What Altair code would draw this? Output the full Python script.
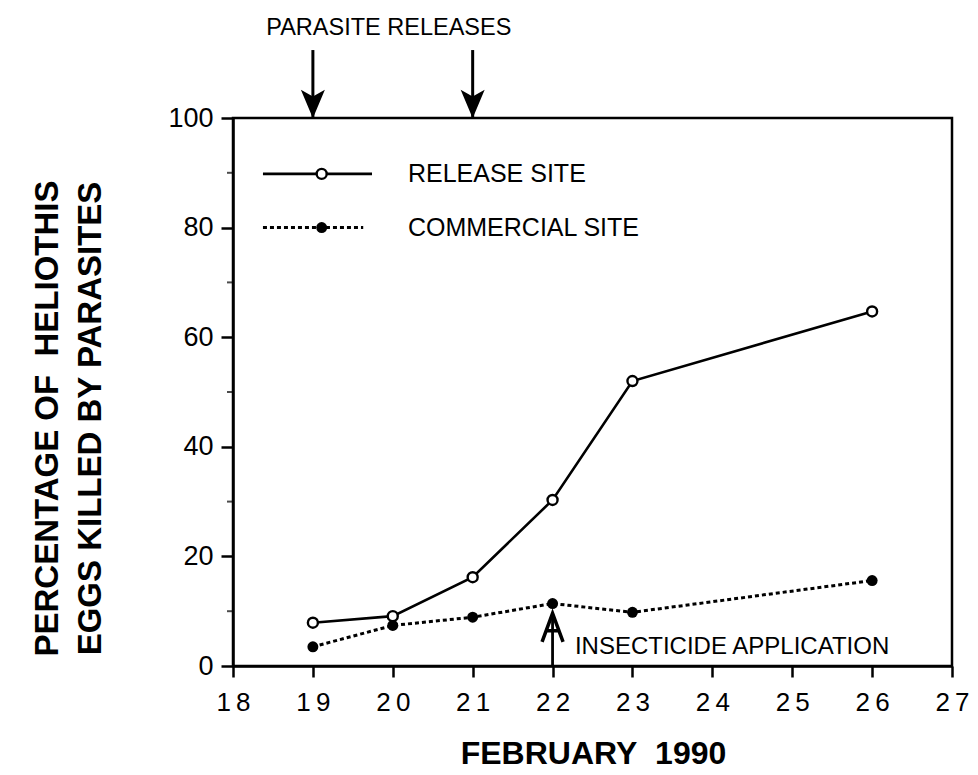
import altair as alt
import pandas as pd

# ---------------- data ----------------
days = [19, 20, 21, 22, 23, 26]
release_site = [7.9, 9.1, 16.2, 30.3, 52.0, 64.7]
commercial_site = [3.5, 7.4, 8.9, 11.4, 9.8, 15.6]

x_ticks = list(range(18, 28))
y_major = [0, 20, 40, 60, 80, 100]
y_minor = [10, 30, 50, 70, 90]

series_names = ["RELEASE SITE", "COMMERCIAL SITE"]
legend_rows = [89.8, 80.0]
legend_line_start = [18.375, 18.375]
legend_line_end = [19.74, 19.63]
legend_marker_x = [19.11, 19.11]
legend_text_x = [20.19, 20.19]

release_days = [19, 21]
release_label = "PARASITE RELEASES"
release_label_pos = (19.95, 116.4)
release_arrow_top = 112.4
release_arrow_head = 102.7

insecticide_day = 22
insecticide_label = "INSECTICIDE APPLICATION"
insecticide_label_pos = (22.28, 3.4)
insecticide_arrow_top = 9.3
insecticide_arrow_head = 7.0

FONT = "Liberation Sans"

# ---------------- shared scales / axes ----------------
xscale = alt.Scale(domain=[18, 27], nice=False, zero=False)
yscale = alt.Scale(domain=[0, 100], nice=False)

xaxis = alt.Axis(
    values=x_ticks, format="d", labelFlush=False,
    labelExpr="substring(datum.label,0,1) + '\u2009' + substring(datum.label,1)",
    labelFont=FONT, labelFontSize=26, labelColor="black",
    labelBaseline="alphabetic", labelPadding=33,
    tickSize=11, tickWidth=2.5, tickColor="black",
    domainColor="black", domainWidth=2.5, grid=False,
    title="FEBRUARY\u00a0 1990", titleFont=FONT, titleFontSize=32,
    titleFontWeight="bold", titleColor="black",
    titleBaseline="alphabetic", titleY=97, titleX=360,
)
yaxis = alt.Axis(
    values=y_major, format="d", labelFlush=False,
    labelFont=FONT, labelFontSize=27, labelColor="black", labelPadding=8,
    tickSize=12, tickWidth=2.5, tickColor="black",
    domainColor="black", domainWidth=2.5, grid=False,
    title=["PERCENTAGE OF\u00a0 HELIOTHIS", "EGGS KILLED BY PARASITES"],
    titleFont=FONT, titleFontSize=33, titleFontWeight="bold", titleColor="black",
    titleAngle=270, titleAlign="center", titleBaseline="middle",
    titleLineHeight=43, titleX=-186, titleY=300,
)


def X(f="x"):
    return alt.X(f"{f}:Q", scale=xscale, axis=xaxis)


def Y(f="y"):
    return alt.Y(f"{f}:Q", scale=yscale, axis=yaxis)


# ---------------- tables ----------------
release_df = pd.DataFrame({"x": days, "y": release_site})
commercial_df = pd.DataFrame({"x": days, "y": commercial_site})
minor_df = pd.DataFrame({"x": [18] * len(y_minor), "y": y_minor})

leg_df = pd.DataFrame({
    "x": legend_line_start, "x2": legend_line_end, "y": legend_rows,
    "mx": legend_marker_x, "tx": legend_text_x, "label": series_names,
})

rel_arrow_df = pd.DataFrame({
    "x": release_days, "y": [release_arrow_top] * 2, "y2": [100] * 2,
    "yh": [release_arrow_head] * 2,
})
rel_text_df = pd.DataFrame({"x": [release_label_pos[0]], "y": [release_label_pos[1]],
                            "label": [release_label]})
ins_df = pd.DataFrame({"x": [insecticide_day], "y": [0], "y2": [insecticide_arrow_top],
                       "yh": [insecticide_arrow_head]})
ins_text_df = pd.DataFrame({"x": [insecticide_label_pos[0]], "y": [insecticide_label_pos[1]],
                            "label": [insecticide_label]})

# ---------------- layers ----------------
release_line = alt.Chart(release_df).mark_line(color="black", strokeWidth=2.6).encode(x=X(), y=Y())
commercial_line = alt.Chart(commercial_df).mark_line(
    color="black", strokeWidth=3, strokeDash=[4, 3]).encode(x=X(), y=Y())
release_pts = alt.Chart(release_df).mark_point(
    shape="circle", size=100, filled=True, fill="white", stroke="black", strokeWidth=2.4,
    opacity=1).encode(x=X(), y=Y())
commercial_pts = alt.Chart(commercial_df).mark_point(
    shape="circle", size=120, filled=True, color="black", opacity=1).encode(x=X(), y=Y())

minor_ticks = alt.Chart(minor_df).mark_tick(
    orient="horizontal", size=6, thickness=2, color="black", xOffset=-3).encode(x=X(), y=Y())

leg_solid = alt.Chart(leg_df.iloc[[0]]).mark_rule(color="black", strokeWidth=2.6).encode(
    x=X(), x2="x2:Q", y=Y())
leg_dot = alt.Chart(leg_df.iloc[[1]]).mark_rule(color="black", strokeWidth=3, strokeDash=[4, 3]).encode(
    x=X(), x2="x2:Q", y=Y())
leg_open = alt.Chart(leg_df.iloc[[0]]).mark_point(
    shape="circle", size=100, filled=True, fill="white", stroke="black", strokeWidth=2.4,
    opacity=1).encode(x=X("mx"), y=Y())
leg_fill = alt.Chart(leg_df.iloc[[1]]).mark_point(
    shape="circle", size=120, filled=True, color="black", opacity=1).encode(x=X("mx"), y=Y())
leg_text = alt.Chart(leg_df).mark_text(
    font=FONT, fontSize=25, align="left", baseline="middle", color="black").encode(
    x=X("tx"), y=Y(), text="label:N")

rel_shaft = alt.Chart(rel_arrow_df).mark_rule(color="black", strokeWidth=3).encode(
    x=X(), y=Y(), y2="y2:Q")
rel_head = alt.Chart(rel_arrow_df).mark_point(
    shape="M0,1 L-0.8,-0.9 L0,-0.45 L0.8,-0.9 Z", size=900, filled=True,
    color="black", opacity=1).encode(x=X(), y=Y("yh"))
rel_text = alt.Chart(rel_text_df).mark_text(
    font=FONT, fontSize=23.5, align="center", baseline="middle", color="black").encode(
    x=X(), y=Y(), text="label:N")

ins_shaft = alt.Chart(ins_df).mark_rule(color="black", strokeWidth=2.8).encode(
    x=X(), y=Y(), y2="y2:Q")
ins_head = alt.Chart(ins_df).mark_point(
    shape="M-0.7,0.95 L0,-0.95 L0.7,0.95 M-0.4,0.2 L0.4,0.2", size=900, filled=False,
    stroke="black", strokeWidth=3.5, opacity=1).encode(x=X(), y=Y("yh"))
ins_text = alt.Chart(ins_text_df).mark_text(
    font=FONT, fontSize=24, align="left", baseline="middle", color="black").encode(
    x=X(), y=Y(), text="label:N")

chart = alt.layer(
    minor_ticks, release_line, commercial_line, release_pts, commercial_pts,
    leg_solid, leg_dot, leg_open, leg_fill, leg_text,
    rel_shaft, rel_head, rel_text, ins_shaft, ins_head, ins_text,
).properties(
    width=719, height=548,
    autosize=alt.AutoSizeParams(type="none"),
    padding={"left": 225, "top": 110, "right": 18, "bottom": 106},
    background="white",
).configure_view(stroke="black", strokeWidth=2.5)

chart.save("out.html", embed_options={"renderer": "svg", "actions": False})
